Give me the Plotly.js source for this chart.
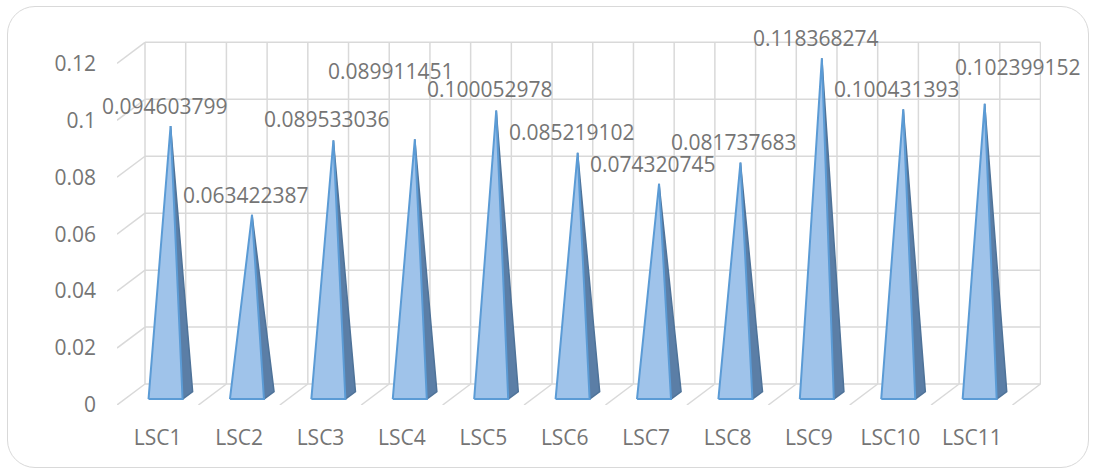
<!DOCTYPE html>
<html>
<head>
<meta charset="utf-8">
<script src="https://cdn.plot.ly/plotly-3.0.1.min.js"></script>
<style>
  html, body { margin: 0; padding: 0; background: #ffffff; }
  #wrap { position: relative; width: 1094px; height: 473px; }
  #frame { position: absolute; left: 7px; top: 6px; width: 1082px; height: 462px;
           border: 1.5px solid #d9d9d9; border-radius: 28px; box-sizing: border-box; }
  #chart { position: absolute; left: 0; top: 0; width: 1094px; height: 473px; }
</style>
</head>
<body>
<div id="wrap">
  <div id="frame"></div>
  <div id="chart"></div>
</div>
<script>
// ---- data ----
const categories = ["LSC1","LSC2","LSC3","LSC4","LSC5","LSC6","LSC7","LSC8","LSC9","LSC10","LSC11"];
const values = [0.094603799, 0.063422387, 0.089533036, 0.089911451, 0.100052978, 0.085219102,
                0.074320745, 0.081737683, 0.118368274, 0.100431393, 0.102399152];
const labels = ["0.094603799","0.063422387","0.089533036","0.089911451","0.100052978","0.085219102",
                "0.074320745","0.081737683","0.118368274","0.100431393","0.102399152"];
const yTicks = [0, 0.02, 0.04, 0.06, 0.08, 0.1, 0.12];
const yTickText = ["0","0.02","0.04","0.06","0.08","0.1","0.12"];

// ---- 3D projection style (depth offset of back wall, in axis units) ----
const DX = 0.344;     // horizontal depth shift (categories)
const DY = 0.00737;   // vertical depth shift (value units)
const HALF = 0.209;   // half base width of pyramid
const dF = 0.28, dB = 0.64, dA = 0.46;  // front, back, apex depth fractions

const idx = categories.map((c, i) => i);

// pyramid faces
const fx = [], fy = [], sx = [], sy = [];
idx.forEach(i => {
  const v = values[i];
  const ax = i + dA * DX, ay = v + dA * DY;
  fx.push(i - HALF + dF * DX, i + HALF + dF * DX, ax, i - HALF + dF * DX, null);
  fy.push(dF * DY, dF * DY, ay, dF * DY, null);
  sx.push(i + HALF + dF * DX, i + HALF + dB * DX, ax, i + HALF + dF * DX, null);
  sy.push(dF * DY, dB * DY, ay, dF * DY, null);
});

const traces = [
  { type: 'scatter', mode: 'lines', x: sx, y: sy, fill: 'toself',
    fillcolor: '#5b7ea6', line: { color: '#4f7399', width: 1.5 }, hoverinfo: 'skip', showlegend: false },
  { type: 'scatter', mode: 'lines', x: fx, y: fy, fill: 'toself',
    fillcolor: '#9fc3ea', line: { color: '#5b9bd5', width: 2 }, hoverinfo: 'skip', showlegend: false }
];

// gridlines (back wall + floor + left side ticks)
const grid = { color: '#d9d9d9', width: 1.5 };
const shapes = [];
yTicks.forEach(v => {
  shapes.push({ type: 'line', layer: 'below', xref: 'x', yref: 'y',
    x0: -0.5 + DX, x1: categories.length - 0.5 + DX, y0: v + DY, y1: v + DY, line: grid });
  shapes.push({ type: 'line', layer: 'below', xref: 'x', yref: 'y',
    x0: -0.5, x1: -0.5 + DX, y0: v, y1: v + DY, line: grid });
});
for (let j = 0; j <= categories.length * 2; j++) {
  const x = -0.5 + DX + j * 0.5;
  shapes.push({ type: 'line', layer: 'below', xref: 'x', yref: 'y',
    x0: x, x1: x, y0: DY, y1: yTicks[yTicks.length - 1] + DY, line: grid });
}
for (let k = 1; k <= categories.length; k++) {
  const x = k - 0.5;
  shapes.push({ type: 'line', layer: 'below', xref: 'x', yref: 'y',
    x0: x, x1: x + DX, y0: 0, y1: DY, line: grid });
}

// data labels
const shiftsX = [-6,-6,-6,-24,-6,-6,-6,-6,-6,-6,33];
const shiftsY = [20,20,21,68,21,21,20,21,20,20,37];
const annotations = idx.map(i => ({
  xref: 'x', yref: 'y', x: i + dA * DX, y: values[i] + dA * DY,
  text: labels[i], showarrow: false, xanchor: 'center', yanchor: 'middle',
  xshift: shiftsX[i], yshift: shiftsY[i],
  font: { family: 'Open Sans, sans-serif', size: 21, color: '#757575' }
}));

const layout = {
  width: 1094, height: 473,
  margin: { l: 117.3, r: 53.3, t: 40.1, b: 67.5, pad: 0 },
  paper_bgcolor: 'rgba(0,0,0,0)', plot_bgcolor: 'rgba(0,0,0,0)',
  showlegend: false,
  xaxis: {
    range: [-0.5, 10.85], tickmode: 'array', tickvals: idx, ticktext: categories,
    showgrid: false, zeroline: false, showline: false, ticks: '',
    ticklabelstandoff: 18,
    tickfont: { family: 'Open Sans, sans-serif', size: 21, color: '#757575' }
  },
  yaxis: {
    range: [0, 0.1282], tickmode: 'array', tickvals: yTicks, ticktext: yTickText,
    showgrid: false, zeroline: false, showline: false, ticks: '',
    ticklabelstandoff: 20,
    tickfont: { family: 'Open Sans, sans-serif', size: 21, color: '#757575' }
  },
  shapes: shapes,
  annotations: annotations
};

Plotly.newPlot('chart', traces, layout, { displayModeBar: false, staticPlot: true });
</script>
</body>
</html>
